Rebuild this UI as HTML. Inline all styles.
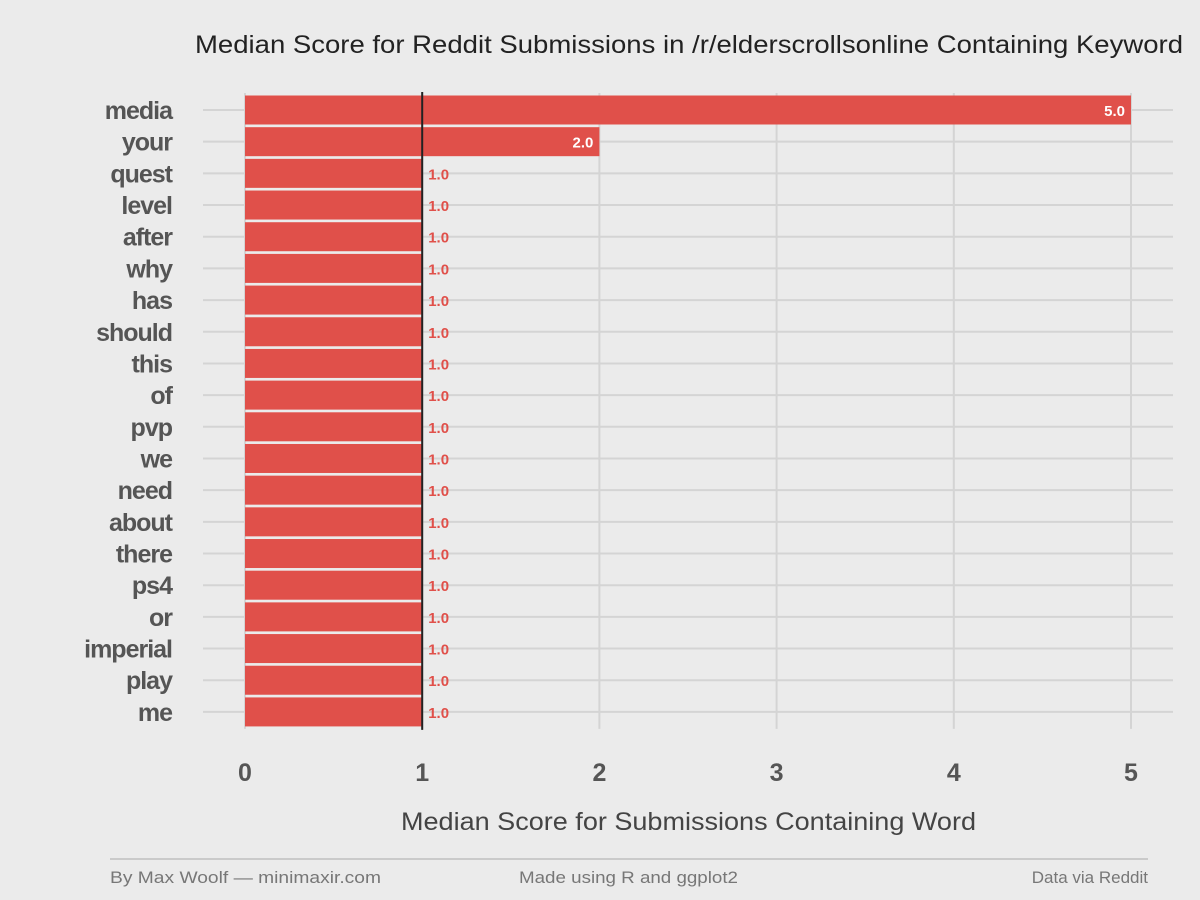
<!DOCTYPE html>
<html><head><meta charset="utf-8"><style>
body{margin:0;background:#ebebeb;}
svg{display:block;}
.cond{font-family:"Liberation Sans Narrow","Liberation Sans",sans-serif;font-weight:bold;}
</style></head><body>
<svg id="chart" width="1200" height="900" xmlns="http://www.w3.org/2000/svg">
<rect width="1200" height="900" fill="#ebebeb"/>
<text x="195" y="53" textLength="988" lengthAdjust="spacingAndGlyphs" font-family="Liberation Sans,sans-serif" font-size="25" fill="#222">Median Score for Reddit Submissions in /r/elderscrollsonline Containing Keyword</text>
<g id="grid"></g><g id="bars"></g><g id="labels"></g>
<text x="401" y="830" textLength="575" lengthAdjust="spacingAndGlyphs" font-family="Liberation Sans,sans-serif" font-size="25" fill="#444">Median Score for Submissions Containing Word</text>
<line x1="110" y1="859" x2="1148" y2="859" stroke="#aaa" stroke-width="1"/>
<text x="110" y="883" textLength="271" lengthAdjust="spacingAndGlyphs" font-family="Liberation Sans,sans-serif" font-size="17" fill="#777">By Max Woolf — minimaxir.com</text>
<text x="519" y="883" textLength="219" lengthAdjust="spacingAndGlyphs" font-family="Liberation Sans,sans-serif" font-size="17" fill="#777">Made using R and ggplot2</text>
<text x="1148" y="883" text-anchor="end" font-family="Liberation Sans,sans-serif" font-size="17" fill="#777">Data via Reddit</text>
</svg>
<script>
const categories=["media","your","quest","level","after","why","has","should","this","of","pvp","we","need","about","there","ps4","or","imperial","play","me"];
const values=[5,2,1,1,1,1,1,1,1,1,1,1,1,1,1,1,1,1,1,1];
const xTicks=[0,1,2,3,4,5];
const NS="http://www.w3.org/2000/svg";
const xs=v=>245+v*177.2;
const ys=i=>110+i*31.68;
function mk(tag,attrs,parent,txt){const e=document.createElementNS(NS,tag);for(const k in attrs)e.setAttribute(k,attrs[k]);if(txt!=null)e.textContent=txt;document.getElementById(parent).appendChild(e);return e;}
const plotTop=ys(0)-17,plotBot=ys(categories.length-1)+17;
xTicks.forEach(t=>{
 const l=mk('line',{x1:xs(t),x2:xs(t),y1:plotTop,y2:plotBot,stroke:'#d4d4d4','stroke-width':2},'grid');
 
 
 const tx=mk('text',{x:xs(t),y:781,'text-anchor':'middle','class':'cond','font-size':25,fill:'#555'},'labels',String(t));
 
 
});
categories.forEach((c,i)=>{
 const g=mk('line',{x1:203,x2:1173,y1:ys(i),y2:ys(i),stroke:'#d4d4d4','stroke-width':2},'grid');
 
 
 const b=mk('rect',{x:xs(0),y:ys(i)-14.5,width:xs(values[i])-xs(0),height:29,fill:'#e0504a'},'bars');
 
 
 const lab=mk('text',{x:172,y:ys(i)+9,'text-anchor':'end','class':'cond','font-size':25,fill:'#555','letter-spacing':'-1'},'labels',c);
 
 
 const inside=values[i]>1;
 const vl=mk('text',{x:inside?xs(values[i])-6:xs(values[i])+6,y:ys(i)+6,'text-anchor':inside?'end':'start','class':'cond','font-size':15,fill:inside?'#fff':'#e0504a'},'labels',values[i].toFixed(1));
 
 
});
const ref=mk('line',{x1:xs(1),x2:xs(1),y1:plotTop-1,y2:plotBot+1,stroke:'#222','stroke-width':2},'labels');


</script>
</body></html>
